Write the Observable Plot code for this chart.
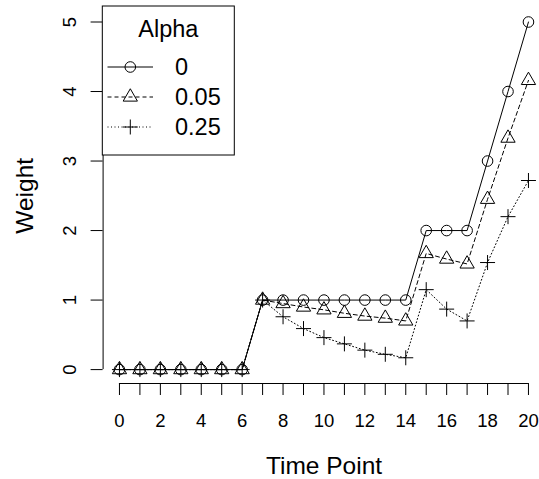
<!DOCTYPE html>
<html><head><meta charset="utf-8">
<script src="https://cdn.jsdelivr.net/npm/d3@7"></script>
<script src="https://cdn.jsdelivr.net/npm/@observablehq/plot@0.6"></script>
<style>
html,body{margin:0;padding:0;background:#fff;}
#chart{position:relative;width:539px;height:479px;}
</style></head><body><div id="chart"></div>
<script>
// ---- data ----
const timePoints = [0,1,2,3,4,5,6,7,8,9,10,11,12,13,14,15,16,17,18,19,20];
const alpha0   = [0,0,0,0,0,0,0,1,1,1,1,1,1,1,1,2,2,2,3,4,5];
const alpha005 = [0,0,0,0,0,0,0,1,0.95,0.90,0.86,0.81,0.77,0.74,0.70,1.67,1.59,1.52,2.45,3.33,4.16];
const alpha025 = [0,0,0,0,0,0,0,1,0.76,0.59,0.46,0.37,0.28,0.22,0.17,1.15,0.87,0.70,1.54,2.20,2.72];
const seriesNames = ["0", "0.05", "0.25"];
const legendTitle = "Alpha";
const xTicks = [0,1,2,3,4,5,6,7,8,9,10,11,12,13,14,15,16,17,18,19,20];
const xTickLabels = ["0","","2","","4","","6","","8","","10","","12","","14","","16","","18","","20"];
const yTicks = [0,1,2,3,4,5];
const yTickLabels = ["0","1","2","3","4","5"];
const xLabel = "Time Point";
const yLabel = "Weight";

// ---- styling / layout ----
const FONT = "'Liberation Sans', Arial, Helvetica, sans-serif";
const W = 539, H = 479;
const mL = 102.6, mT = 7.6, mB = 96, mR = 0;
const xDomain = [-0.8, 20.54];
const yDomain = [-0.2, 5.2];
const RAD = 5.3;
const symCircle = {draw(ctx){ ctx.moveTo(RAD,0); ctx.arc(0,0,RAD,0,2*Math.PI); ctx.closePath(); }};
const TR = 1.555*RAD;
const symTriangle = {draw(ctx){ const xc = TR*Math.sqrt(3)/2; ctx.moveTo(0,-TR); ctx.lineTo(xc,TR/2); ctx.lineTo(-xc,TR/2); ctx.closePath(); }};
const PL = 1.414*RAD;
const symPlus = {draw(ctx){ ctx.moveTo(-PL,0); ctx.lineTo(PL,0); ctx.moveTo(0,-PL); ctx.lineTo(0,PL); }};
const seriesValues = [alpha0, alpha005, alpha025];
const dashes = [null, "4,3", "1,2.5"];
const symbols = [symCircle, symTriangle, symPlus];

const rows = seriesValues.map((vals, k) => timePoints.map((t, i) => ({t, w: vals[i], s: seriesNames[k]})));

function legendMark() {
  const g = d3.create("svg:g").attr("font-family", FONT).attr("fill", "black");
  const bx = 102.3, by = 6, bw = 132, bh = 149;
  g.append("rect").attr("x", bx).attr("y", by).attr("width", bw).attr("height", bh)
    .attr("fill", "white").attr("stroke", "black").attr("stroke-width", 1);
  g.append("text").attr("x", bx + bw/2).attr("y", 36.7).attr("text-anchor", "middle")
    .attr("font-size", 23.5).text(legendTitle);
  seriesNames.forEach((name, k) => {
    const cy = 67 + k*30;
    const ln = g.append("line").attr("x1", 107.5).attr("x2", 153).attr("y1", cy).attr("y2", cy)
      .attr("stroke", "black").attr("stroke-width", 1);
    if (dashes[k]) ln.attr("stroke-dasharray", dashes[k]);
    const p = d3.path(); symbols[k].draw(p);
    g.append("path").attr("d", p.toString()).attr("transform", `translate(130.3,${cy})`)
      .attr("fill", "none").attr("stroke", "black").attr("stroke-width", 1);
    g.append("text").attr("x", 175).attr("y", cy + 8).attr("text-anchor", "start")
      .attr("font-size", 23.5).text(name);
  });
  return g.node();
}

const marks = [];
rows.forEach((d, k) => {
  marks.push(Plot.line(d, {x: "t", y: "w", stroke: "black", strokeWidth: 1, strokeDasharray: dashes[k] || undefined}));
});
rows.forEach((d, k) => {
  marks.push(Plot.dot(d, {x: "t", y: "w", symbol: symbols[k], r: 5, stroke: "black", fill: "none", strokeWidth: 1}));
});
marks.push(
  Plot.ruleY([yDomain[0]], {x1: xTicks[0], x2: xTicks[xTicks.length-1], stroke: "black", strokeWidth: 1}),
  Plot.ruleX([xDomain[0]], {y1: yTicks[0], y2: yTicks[yTicks.length-1], stroke: "black", strokeWidth: 1}),
  Plot.axisX(xTicks, {tickSize: 12, tickPadding: 18.6, tickFormat: (d, i) => xTickLabels[i], fontSize: 18.5, label: null, stroke: "black"}),
  Plot.axisY(yTicks, {tickSize: 12, tickFormat: () => "", label: null, stroke: "black"}),
  Plot.text(yTicks, {y: d => d, text: (d, i) => yTickLabels[i], frameAnchor: "left", rotate: -90, dx: -27.6, lineAnchor: "bottom", textAnchor: "middle", fontSize: 18.5, fill: "black"}),
  Plot.text([xLabel], {text: d => d, frameAnchor: "bottom", dx: 2.7, dy: 90, lineAnchor: "bottom", textAnchor: "middle", fontSize: 24.5, fill: "black"}),
  Plot.text([yLabel], {text: d => d, frameAnchor: "left", rotate: -90, dx: -70.6, lineAnchor: "bottom", textAnchor: "middle", fontSize: 24.5, fill: "black"}),
  legendMark
);

const chart = Plot.plot({
  width: W, height: H,
  marginLeft: mL, marginTop: mT, marginBottom: mB, marginRight: mR,
  x: {domain: xDomain},
  y: {domain: yDomain},
  style: {fontFamily: FONT, fontSize: "18.5px", color: "black", background: "white", overflow: "visible"},
  marks
});
document.getElementById("chart").appendChild(chart);
</script>
</body></html>
